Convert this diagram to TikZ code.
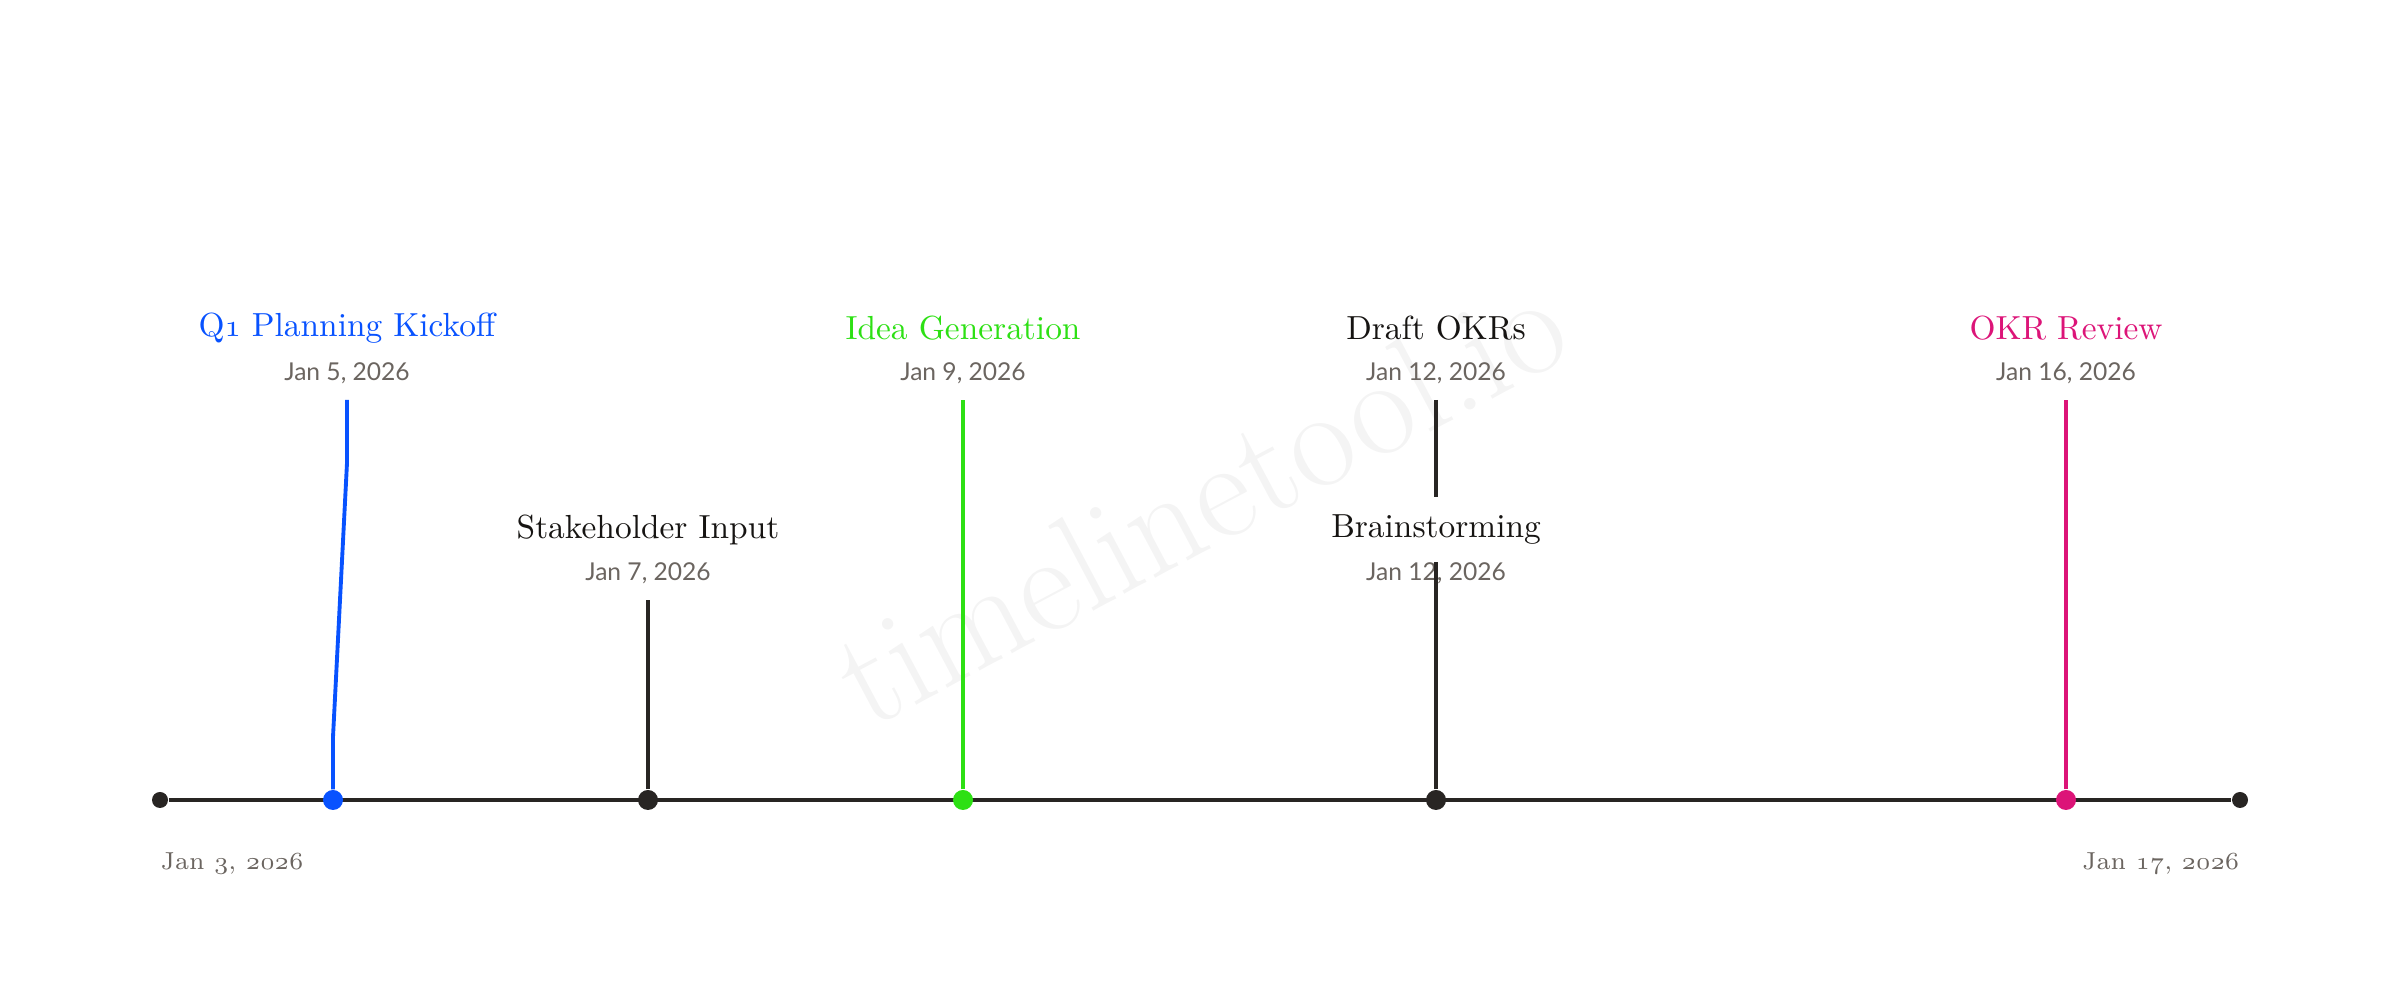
\documentclass[tikz,border=0pt]{standalone}
\usepackage{fontspec}
\usepackage{tikz}
\newfontfamily\datefont{Lato}
\definecolor{kickblue}{RGB}{8, 82, 255}
\definecolor{ideagreen}{RGB}{45, 224, 20}
\definecolor{reviewpink}{RGB}{220, 20, 120}
\definecolor{axisblack}{RGB}{40, 37, 35}
\definecolor{titleblack}{RGB}{22, 20, 18}
\definecolor{dategray}{RGB}{107, 101, 96}
\definecolor{markgray}{RGB}{244, 244, 244}
\usetikzlibrary{positioning}
% old style figures, as in the titles
\newcommand{\osnum}[1]{{\usefont{OML}{cmm}{m}{it}#1}}
\tikzset{
    evtitle/.style={font=\fontsize{9.5}{11}\selectfont, text=titleblack},
    evdate/.style={font=\datefont\fontsize{7}{8}\selectfont, text=dategray},
    evstem/.style={line width=1.1pt},
    evdot/.style={circle, fill, inner sep=0pt, minimum size=0.2cm},
    enddot/.style={circle, fill=axisblack, inner sep=0pt, minimum size=0.16cm},
    axislabel/.style={font=\fontsize{7}{8}\selectfont, text=dategray,
        inner xsep=0pt},
}

\begin{document}
\begin{tikzpicture}
    \useasboundingbox (0, 0) rectangle (24, 10);
    \node[rotate=28, text=markgray, font=\fontsize{40}{44}\selectfont]
        (mark) at (12.0, 5.0) {timelinetool.io};

    % the axis
    \node[enddot] (start) at (1.60, 2) {};
    \node[enddot] (stop) at (22.40, 2) {};
    \draw[evstem, axisblack] (start) -- (stop);
    \node[axislabel, anchor=west] (startlabel) at (1.60, 1.37)
        {Jan \osnum{3}, \osnum{2026}};
    \node[axislabel, anchor=east] (stoplabel) at (22.40, 1.37)
        {Jan \osnum{17}, \osnum{2026}};

    % the events
    \node[evdot, kickblue] (kick) at (3.33, 2) {};
    \node[evdot, axisblack] (stake) at (6.48, 2) {};
    \node[evdot, ideagreen] (idea) at (9.63, 2) {};
    \node[evdot, axisblack] (draft) at (14.36, 2) {};
    \node[evdot, reviewpink] (review) at (20.66, 2) {};

    \node[evtitle, text=kickblue] (kicktitle) at (3.47, 6.72)
        {Q\osnum{1} Planning Kickoff};
    \node[evdate] (kickdate) at (3.47, 6.27) {Jan 5, 2026};
    \node[evtitle] (staketitle) at (6.48, 4.70) {Stakeholder Input};
    \node[evdate] (stakedate) at (6.48, 4.27) {Jan 7, 2026};
    \node[evtitle, text=ideagreen] (ideatitle) at (9.63, 6.72) {Idea Generation};
    \node[evdate] (ideadate) at (9.63, 6.27) {Jan 9, 2026};
    \node[evtitle] (drafttitle) at (14.36, 6.72) {Draft OKRs};
    \node[evdate] (draftdate) at (14.36, 6.27) {Jan 12, 2026};
    \node[evtitle] (braintitle) at (14.36, 4.70) {Brainstorming};
    \node[evdate] (braindate) at (14.36, 4.27) {Jan 12, 2026};
    \node[evtitle, text=reviewpink] (reviewtitle) at (20.66, 6.72) {OKR Review};
    \node[evdate] (reviewdate) at (20.66, 6.27) {Jan 16, 2026};

    \coordinate (kicktop) at (3.47, 6.00);
    \coordinate (staketop) at (6.48, 4.00);
    \coordinate (ideatop) at (9.63, 6.00);
    \coordinate (drafttop) at (14.36, 6.00);
    \coordinate (draftlow) at (14.36, 5.03);
    \coordinate (braintop) at (14.36, 4.38);
    \coordinate (reviewtop) at (20.66, 6.00);

    \draw[evstem, kickblue] (kick) -- ++(0, 0.63) -- (3.47, 5.37) -- (kicktop);
    \draw[evstem, axisblack] (stake) -- (staketop);
    \draw[evstem, ideagreen] (idea) -- (ideatop);
    \draw[evstem, axisblack] (drafttop) -- (draftlow);
    \draw[evstem, axisblack] (draft) -- (braintop);
    \draw[evstem, reviewpink] (review) -- (reviewtop);
\end{tikzpicture}
\end{document}
